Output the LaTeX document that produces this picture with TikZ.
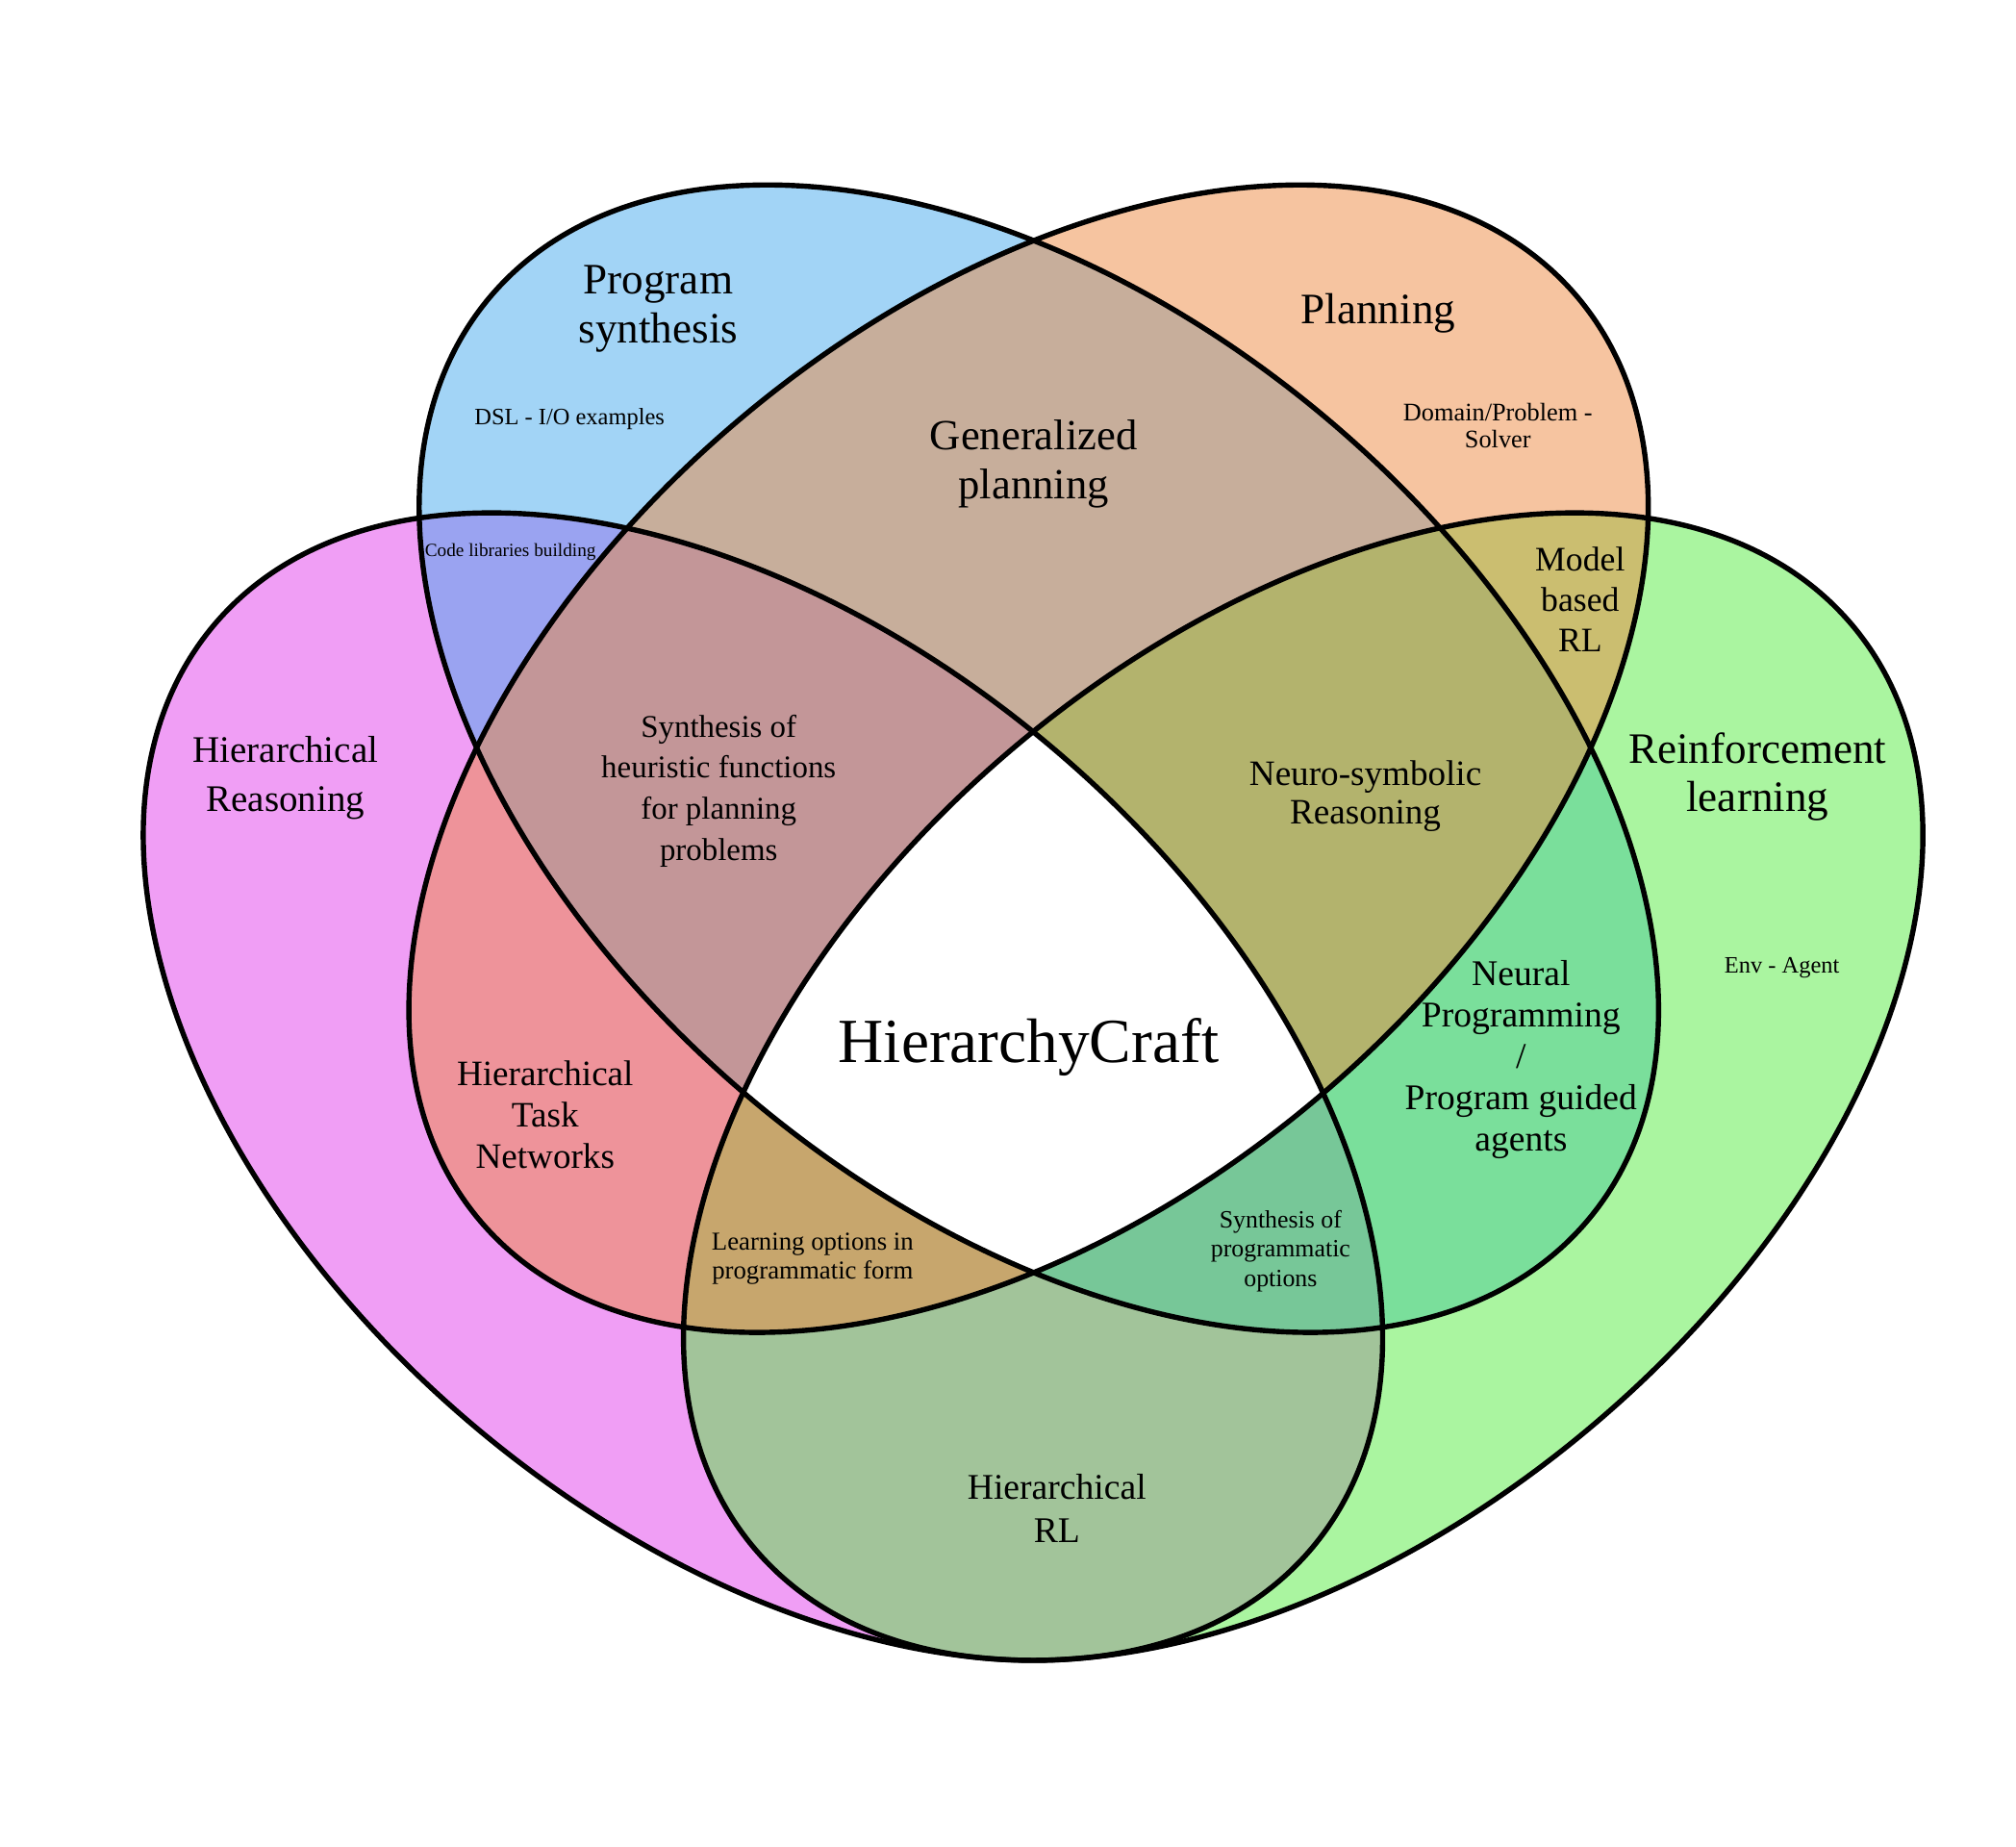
\documentclass[tikz,border=0pt]{standalone}
\usepackage{fontspec}
\setmainfont{Liberation Serif}

\definecolor{hrcol}{RGB}{225,61,235}
\definecolor{pscol}{RGB}{69,169,237}
\definecolor{rlcol}{RGB}{85,235,65}
\definecolor{plcol}{RGB}{237,137,65}

\def\ra{557.8}
\def\rb{346.6}

\tikzset{
  setfill/.style={fill=#1, fill opacity=0.5},
  setline/.style={draw=black, line width=1.15pt},
  lbl/.style 2 args={align=center, inner sep=0pt, font=\fontsize{#1}{#2}\selectfont},
  hrshape/.style={rotate around={-40:(chr)}},
  psshape/.style={rotate around={-40:(cps)}},
  rlshape/.style={rotate around={40:(crl)}},
  plshape/.style={rotate around={40:(cpl)}},
}

\begin{document}
\begin{tikzpicture}[x=0.01cm, y=-0.01cm]
		\useasboundingbox (0,0) rectangle (1568,1436);
		\coordinate (chr) at (593.4,845);
		\coordinate (cps) at (808,590);
		\coordinate (crl) at (1013.6,845);
		\coordinate (cpl) at (800,590);
		
		% set fills
		\fill[setfill=hrcol, hrshape] (chr) ellipse [x radius=\ra, y radius=\rb];
		\fill[setfill=pscol, psshape] (cps) ellipse [x radius=\ra, y radius=\rb];
		\fill[setfill=rlcol, rlshape] (crl) ellipse [x radius=\ra, y radius=\rb];
		\fill[setfill=plcol, plshape] (cpl) ellipse [x radius=\ra, y radius=\rb];
		
		% all four sets: left white
		\begin{scope}
			\clip[hrshape] (chr) ellipse [x radius=\ra, y radius=\rb];
			\clip[psshape] (cps) ellipse [x radius=\ra, y radius=\rb];
			\clip[rlshape] (crl) ellipse [x radius=\ra, y radius=\rb];
			\fill[white, plshape] (cpl) ellipse [x radius=\ra, y radius=\rb];
		\end{scope}
		
		\draw[setline, hrshape] (chr) ellipse [x radius=\ra, y radius=\rb];
		\draw[setline, psshape] (cps) ellipse [x radius=\ra, y radius=\rb];
		\draw[setline, rlshape] (crl) ellipse [x radius=\ra, y radius=\rb];
		\draw[setline, plshape] (cpl) ellipse [x radius=\ra, y radius=\rb];
		
		\node[lbl={9.6}{10.8}] (ps) at (512,240) {Program\\synthesis};
		\node[lbl={5.2}{6}] (dsl) at (443,326) {DSL - I/O examples};
		\node[lbl={9.6}{10.8}] (pl) at (1072,244) {Planning};
		\node[lbl={5.6}{6}] (dom) at (1165,331) {Domain/Problem -\\Solver};
		\node[lbl={9.5}{10.8}] (gp) at (804,361) {Generalized\\planning};
		\node[lbl={4.1}{5}] (code) at (397,429) {Code libraries building};
		\node[lbl={8.3}{10.8}] (hr) at (222,605) {Hierarchical\\Reasoning};
		\node[lbl={7}{9.1}] (heur) at (559,615) {Synthesis of\\heuristic functions\\for planning\\problems};
		\node[lbl={7.6}{9}] (mbrl) at (1229,466) {Model\\based\\RL};
		\node[lbl={7.9}{8.5}] (neuro) at (1062,619) {Neuro-symbolic\\Reasoning};
		\node[lbl={9.6}{10.8}] (rl) at (1367,604) {Reinforcement\\learning};
		\node[lbl={5.2}{6}] (env) at (1386,753) {Env - Agent};
		\node[lbl={8}{9.1}] (neural) at (1183,824) {Neural\\Programming\\/\\Program guided\\agents};
		\node[lbl={13.9}{16}] (hc) at (800,814) {HierarchyCraft};
		\node[lbl={7.9}{9.1}] (htn) at (424,867) {Hierarchical\\Task\\Networks};
		\node[lbl={5.7}{6.5}] (learn) at (632,979) {Learning options in\\programmatic form};
		\node[lbl={5.5}{6.5}] (synprog) at (996,973) {Synthesis of\\programmatic\\options};
		\node[lbl={8}{9.7}] (hrl) at (822,1173) {Hierarchical\\RL};
	\end{tikzpicture}
\end{document}
